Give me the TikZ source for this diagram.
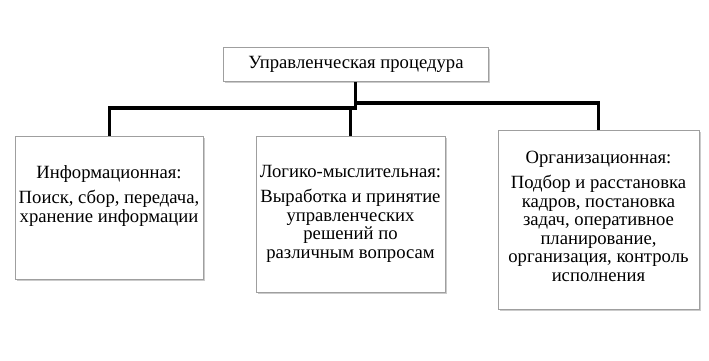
\documentclass[tikz,border=0pt]{standalone}
\usepackage{fontspec}
\setmainfont{Liberation Serif}
\usetikzlibrary{shadows}

\tikzset{
  box/.style={draw=gray!75, line width=0.6pt, fill=white, rectangle, anchor=north west, inner sep=0pt,
    drop shadow={shadow xshift=1.3pt, shadow yshift=-1.5pt, fill=gray!45, opacity=0.9}},
  link/.style={line width=2.3pt},
  head/.style={anchor=base, inner sep=0pt, font=\fontsize{14}{13.9}\selectfont},
  body/.style={anchor=north, align=center, inner sep=0pt, font=\fontsize{14}{13.9}\selectfont}
}

\begin{document}
\begin{tikzpicture}[x=0.75pt, y=-0.75pt]
    \fill[white] (0,0) rectangle (709,360);
    \useasboundingbox (0,0) rectangle (709,360);

    \node[box, minimum width=198.75pt, minimum height=25.5pt, font=\fontsize{14}{13.9}\selectfont] (proc) at (223,47) {Управленческая процедура};

    \node[box, minimum width=141pt, minimum height=107.25pt] (info) at (15,136) {};
    \node[box, minimum width=141.75pt, minimum height=117pt] (logic) at (256,136) {};
    \node[box, minimum width=150.75pt, minimum height=134.25pt] (org) at (498,130) {};

    \node[head] (infohead) at (109,178) {Информационная:};
    \node[body] (infobody) at (109,190) {\strut Поиск, сбор, передача,\\ хранение информации};

    \node[head] (logichead) at (350.5,177) {Логико-мыслительная:};
    \node[body] (logicbody) at (350.5,189) {\strut Выработка и принятие\\ управленческих\\ решений по\\ различным вопросам};

    \node[head] (orghead) at (598.5,163) {Организационная:};
    \node[body] (orgbody) at (598.5,175) {\strut Подбор и расстановка\\ кадров, постановка\\ задач, оперативное\\ планирование,\\ организация, контроль\\ исполнения};

    \coordinate (hub) at (356,108);
    \coordinate (hubr) at (356,103);

    \draw[link] (proc.south) -- (proc.south |- hub) -| (info.north);
    \draw[link] (hubr) -| (org.north);
    \draw[link] (logic.north) -- (logic.north |- hub);
\end{tikzpicture}
\end{document}
